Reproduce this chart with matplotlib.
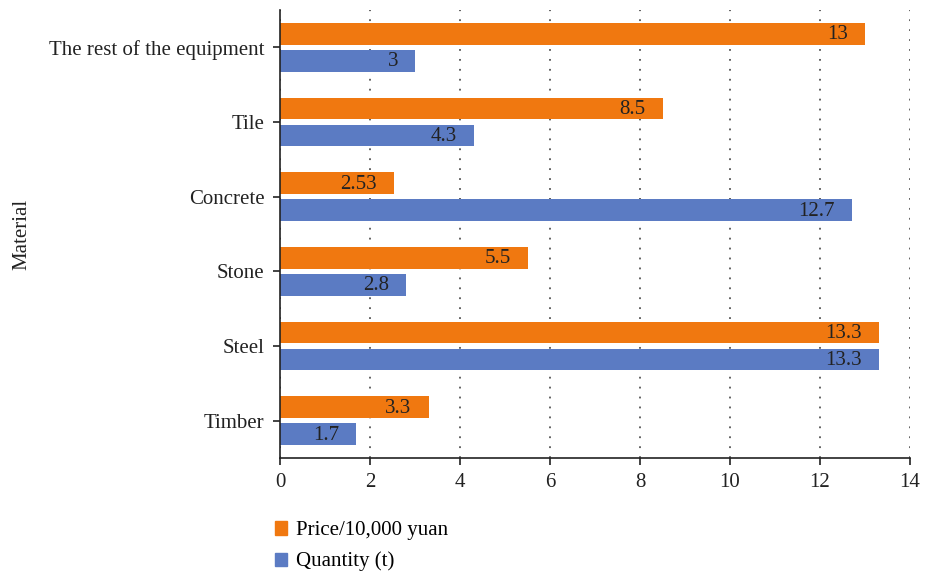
import matplotlib.pyplot as plt
import numpy as np
from matplotlib.patches import Patch

plt.rcParams['font.family'] = ['Liberation Serif', 'DejaVu Serif']

materials = ['Timber', 'Steel', 'Stone', 'Concrete', 'Tile', 'The rest of the equipment']
price = [3.3, 13.3, 5.5, 2.53, 8.5, 13]
quantity = [1.7, 13.3, 2.8, 12.7, 4.3, 3]
price_labels = ['3.3', '13.3', '5.5', '2.53', '8.5', '13']
quantity_labels = ['1.7', '13.3', '2.8', '12.7', '4.3', '3']

orange = '#F07810'
blue = '#5B7BC3'
fs = 15

fig = plt.figure(figsize=(9.25, 5.76), dpi=100)
ax = fig.add_axes([0.3027, 0.2049, 0.6811, 0.7777])

y = np.arange(len(materials))
h = 0.29
ax.barh(y + 0.18, price, h, color=orange, zorder=2)
ax.barh(y - 0.18, quantity, h, color=blue, zorder=2)

for yi, v, s in zip(y, price, price_labels):
    ax.annotate(s, (v, yi + 0.18), xytext=(-17, -1), textcoords='offset pixels',
                ha='right', va='center', fontsize=fs, color='#222222', zorder=3)
for yi, v, s in zip(y, quantity, quantity_labels):
    ax.annotate(s, (v, yi - 0.18), xytext=(-17, -1), textcoords='offset pixels',
                ha='right', va='center', fontsize=fs, color='#222222', zorder=3)

ax.set_xlim(0, 14)
ax.set_ylim(-0.5, 5.5)
ax.set_xticks(range(0, 15, 2))
ax.set_yticks(y)
ax.set_yticklabels(materials)
ax.tick_params(axis='both', labelsize=fs, colors='#222222', length=5, width=1.2)
ax.tick_params(axis='y', pad=6)
ax.tick_params(axis='x', pad=6)
ax.xaxis.grid(True, linestyle=(0, (1, 4.5)), color='#555555', linewidth=1.3, zorder=1)
ax.spines['top'].set_visible(False)
ax.spines['right'].set_visible(False)
ax.spines['left'].set_color('#222222')
ax.spines['bottom'].set_color('#222222')
ax.spines['left'].set_linewidth(1.2)
ax.spines['bottom'].set_linewidth(1.2)
ax.set_ylabel('Material', fontsize=fs, color='#222222', labelpad=0)
ax.yaxis.set_label_coords(-0.395, 0.5)

handles = [Patch(color=orange), Patch(color=blue)]
fig.legend(handles, ['Price/10,000 yuan', 'Quantity (t)'], loc='upper left',
           bbox_to_anchor=(0.297, 0.095), frameon=False, fontsize=fs,
           handlelength=0.6, handleheight=0.6, handletextpad=0.4, labelspacing=0.55,
           borderaxespad=0, borderpad=0)

fig.savefig('out.png', dpi=100)
